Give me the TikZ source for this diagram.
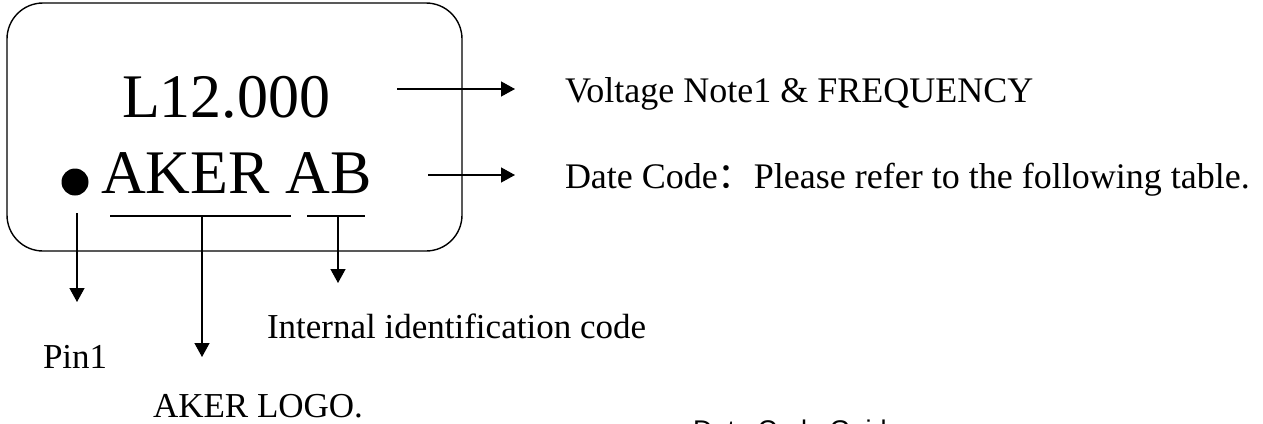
\documentclass[tikz,border=0pt]{standalone}
\usepackage{fontspec}
\setmainfont{Liberation Serif}
\newfontfamily\cjkfont{Noto Sans CJK SC}
\newfontfamily\guidefont{Liberation Sans}
\usetikzlibrary{arrows.meta}
\tikzset{
  lbl/.style={anchor=base west, inner sep=0pt, outer sep=0pt},
  bigtxt/.style={lbl, font=\fontsize{62}{62}\selectfont},
  midtxt/.style={lbl, font=\fontsize{36}{36}\selectfont},
  smltxt/.style={lbl, font=\fontsize{35}{35}\selectfont},
  conn/.style={line width=1.4pt, -{Triangle[length=14pt,width=15pt]}},
  uline/.style={line width=1.4pt},
}
\begin{document}
\begin{tikzpicture}[x=1pt,y=-1pt]
\clip (0,0) rectangle (1263,423);
\fill[white] (0,0) rectangle (1263,423);
% package outline
\node[draw, line width=1.4pt, rounded corners=36pt, minimum width=455pt, minimum height=248pt, inner sep=0pt] (box) at (234.5,127) {};
% marking
\node[bigtxt] (val) at (122,117) {L12.000};
\node[bigtxt] (mark) at (101,193) {AKER AB};
\node[circle, fill=black, inner sep=0pt, minimum size=27pt] (dot) at (75,182) {};
% underlines
\coordinate (ula) at (110,216);
\coordinate (ulb) at (291,216);
\coordinate (ulm) at (202,216);
\coordinate (uba) at (307,216);
\coordinate (ubb) at (365,216);
\coordinate (ubm) at (338,216);
\draw[uline] (ula) -- (ulb);
\draw[uline] (uba) -- (ubb);
% arrow ends
\coordinate (pinS) at (77,213);
\coordinate (pinE) at (77,302);
\coordinate (logoE) at (202,357);
\coordinate (idE) at (338,283);
\coordinate (v1S) at (397,89);
\coordinate (v1E) at (515,89);
\coordinate (v2S) at (428,175);
\coordinate (v2E) at (515,175);
\draw[conn] (pinS) -- (pinE);
\draw[conn] (ulm) -- (logoE);
\draw[conn] (ubm) -- (idE);
\draw[conn] (v1S) -- (v1E);
\draw[conn] (v2S) -- (v2E);
% labels
\node[midtxt] (volt) at (565,102) {Voltage Note1 \& FREQUENCY};
\node[midtxt] (date) at (565,188) {Date Code{\cjkfont ：}Please refer to the following table.};
\node[smltxt] (intl) at (267,338) {Internal identification code};
\node[smltxt] (pin) at (43,368) {Pin1};
\node[smltxt] (logo) at (153,417) {AKER LOGO.};
\node[lbl, font=\guidefont\fontsize{27}{27}\selectfont] (guide) at (693,439) {Date Code Guide};
\end{tikzpicture}
\end{document}
